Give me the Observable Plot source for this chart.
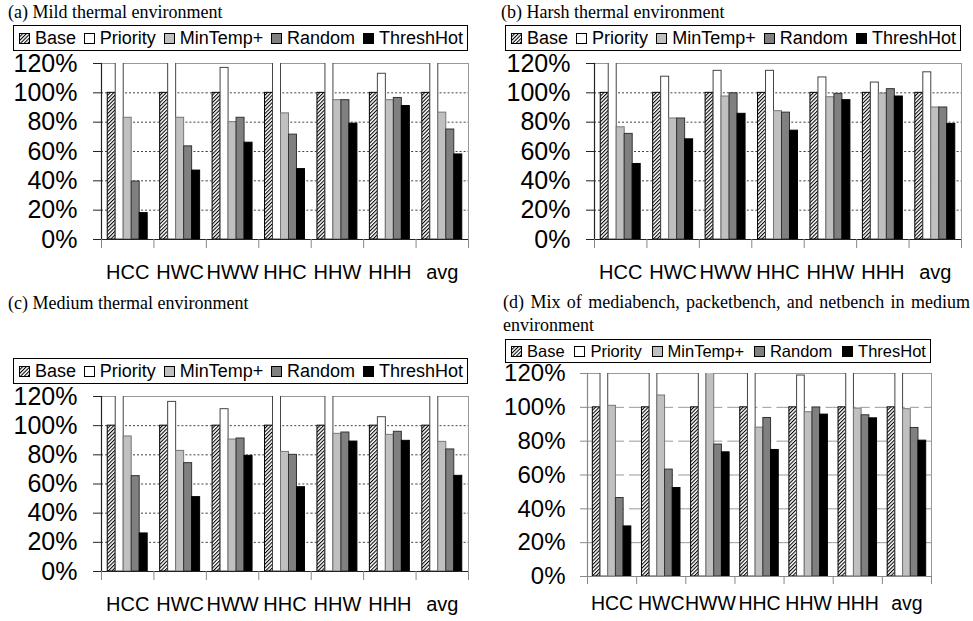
<!DOCTYPE html>
<html>
<head>
<meta charset="utf-8">
<script src="https://cdn.jsdelivr.net/npm/d3@7"></script>
<script src="https://cdn.jsdelivr.net/npm/@observablehq/plot@0.6"></script>
<style>
  html, body { margin: 0; padding: 0; background: #fff; }
  #root { position: relative; width: 973px; height: 621px; overflow: hidden; background: #fff; }
  .title { position: absolute; font-family: "Liberation Serif", "Times New Roman", serif; font-size: 18px; line-height: 20px; color: #000; white-space: nowrap; }
  .title.wrap { white-space: normal; text-align: justify; line-height: 23px; }
  .legend { position: absolute; box-sizing: border-box; border: 1px solid #000; display: flex; align-items: center; justify-content: space-between; padding: 0 4px 0 5px; font-family: "Liberation Sans", Arial, sans-serif; color: #000; }
  .legend .item { display: flex; align-items: center; gap: 5px; }
  .legend svg { display: block; }
  .plotbox { position: absolute; }
</style>
</head>
<body>
<svg width="0" height="0" style="position:absolute">
  <defs>
    <pattern id="hatch" patternUnits="userSpaceOnUse" width="2.6" height="2.6" patternTransform="rotate(45)">
      <rect width="2.6" height="2.6" fill="#fff"></rect>
      <line x1="0.5" y1="0" x2="0.5" y2="2.6" stroke="#000" stroke-width="1.1"></line>
    </pattern>
  </defs>
</svg>
<div id="root"></div>
<script>
// ---------- data ----------
const groups = ["HCC", "HWC", "HWW", "HHC", "HHW", "HHH", "avg"];
const seriesNames = ["Base", "Priority", "MinTemp+", "Random", "ThreshHot"];
const legendNamesABC = ["Base", "Priority", "MinTemp+", "Random", "ThreshHot"];
const legendNamesD = ["Base", "Priority", "MinTemp+", "Random", "ThresHot"];
const yTicks = [0, 0.2, 0.4, 0.6, 0.8, 1.0, 1.2];

// (a) Mild thermal environment (values above 120% run off the chart; estimated)
const mildBase      = [1, 1, 1, 1, 1, 1, 1];
const mildPriority  = [1.3, 1.3, 1.17, 1.3, 1.3, 1.13, 1.3];
const mildMinTemp   = [0.83, 0.83, 0.80, 0.86, 0.95, 0.95, 0.865];
const mildRandom    = [0.395, 0.635, 0.83, 0.715, 0.95, 0.965, 0.75];
const mildThreshHot = [0.18, 0.47, 0.66, 0.48, 0.79, 0.91, 0.58];

// (b) Harsh thermal environment
const harshBase      = [1, 1, 1, 1, 1, 1, 1];
const harshPriority  = [1.3, 1.11, 1.15, 1.15, 1.105, 1.07, 1.14];
const harshMinTemp   = [0.765, 0.825, 0.975, 0.875, 0.97, 0.995, 0.90];
const harshRandom    = [0.72, 0.825, 0.997, 0.865, 0.993, 1.025, 0.90];
const harshThreshHot = [0.515, 0.683, 0.857, 0.742, 0.95, 0.975, 0.788];

// (c) Medium thermal environment
const medBase      = [1, 1, 1, 1, 1, 1, 1];
const medPriority  = [1.3, 1.163, 1.113, 1.3, 1.3, 1.058, 1.3];
const medMinTemp   = [0.926, 0.827, 0.905, 0.82, 0.944, 0.937, 0.889];
const medRandom    = [0.654, 0.743, 0.912, 0.80, 0.953, 0.958, 0.837];
const medThreshHot = [0.261, 0.51, 0.793, 0.578, 0.891, 0.896, 0.656];

// (d) Mix of mediabench, packetbench, and netbench in medium environment
const mixBase      = [1, 1, 1, 1, 1, 1, 1];
const mixPriority  = [1.3, 1.3, 1.3, 1.3, 1.188, 1.3, 1.3];
const mixMinTemp   = [1.009, 1.07, 1.3, 0.88, 0.971, 0.993, 0.989];
const mixRandom    = [0.464, 0.632, 0.78, 0.937, 0.999, 0.953, 0.878];
const mixThresHot  = [0.296, 0.523, 0.734, 0.748, 0.957, 0.935, 0.803];

// ---------- styles ----------
const fillOf = {"Base": "url(#hatch)", "Priority": "#ffffff", "MinTemp+": "#c0c0c0", "Random": "#808080", "ThreshHot": "#000000"};
const strokeOf = {"Base": "#000000", "Priority": "#444444", "MinTemp+": "#777777", "Random": "#333333", "ThreshHot": "#000000"};
const sans = "'Liberation Sans', Arial, sans-serif";
const root = document.getElementById("root");

function addTitle(text, left, top, width) {
  const d = document.createElement("div");
  d.className = "title" + (width ? " wrap" : "");
  d.style.left = left + "px";
  d.style.top = top + "px";
  if (width) d.style.width = width + "px";
  d.textContent = text;
  root.appendChild(d);
}

function addLegend(names, left, top, width, height, fontSize) {
  const box = document.createElement("div");
  box.className = "legend";
  Object.assign(box.style, {left: left + "px", top: top + "px", width: width + "px", height: height + "px", fontSize: fontSize + "px"});
  names.forEach((name, i) => {
    const s = seriesNames[i];
    const item = document.createElement("div");
    item.className = "item";
    item.innerHTML = `<svg width="11" height="11"><rect x="0.5" y="0.5" width="10" height="10" fill="${fillOf[s]}" stroke="${strokeOf[s] === "#ffffff" ? "#000" : "#000"}" stroke-width="1"></rect></svg><span>${name}</span>`;
    box.appendChild(item);
  });
  root.appendChild(box);
}

function addPanel(cfg) {
  const cols = [cfg.base, cfg.priority, cfg.minTemp, cfg.random, cfg.thresh];
  const rows = groups.flatMap((g, i) => seriesNames.map((s, j) => ({group: g, series: s, value: cols[j][i]})));
  const plotH = cfg.height - cfg.mt - cfg.mb;
  const plot = Plot.plot({
    width: cfg.width,
    height: cfg.height,
    marginLeft: cfg.ml,
    marginRight: cfg.mr,
    marginTop: cfg.mt,
    marginBottom: cfg.mb,
    style: {fontFamily: sans, background: "transparent", overflow: "visible", color: "#000"},
    fx: {domain: groups, padding: 0, round: false, axis: null, label: null},
    x: {domain: seriesNames, paddingInner: 0, paddingOuter: cfg.po, round: false, axis: null, label: null},
    y: {domain: [0, 1.2], axis: null, label: null},
    color: {type: "identity"},
    marks: [
      Plot.gridY([0.2, 0.4, 0.6, 0.8, 1.0], {stroke: cfg.gridColor, strokeOpacity: 1, strokeDasharray: cfg.gridDash, strokeWidth: 1}),
      Plot.frame({facet: "super", stroke: "#999", strokeWidth: 1}),
      Plot.barY(rows, {
        fx: "group", x: "series", y: "value",
        fill: d => fillOf[d.series], stroke: d => strokeOf[d.series],
        strokeWidth: 1, clip: true
      }),
      Plot.ruleY([0], {stroke: cfg.axisColor, strokeWidth: 1.2}),
      Plot.frame({facet: "super", anchor: "left", stroke: cfg.axisColor, strokeWidth: 1.2}),
      Plot.frame({anchor: "left", insetTop: plotH, insetBottom: -cfg.tick, stroke: "#888"}),
      Plot.frame({facet: "super", anchor: "right", insetTop: plotH, insetBottom: -cfg.tick, stroke: "#888"}),
      Plot.axisY({ticks: yTicks, tickFormat: d3.format(".0%"), tickSize: cfg.tick, tickPadding: cfg.yPad,
                  fontSize: cfg.yFont, stroke: cfg.axisColor, label: null, anchor: "left", fill: "#000"}),
      Plot.axisFx({anchor: "bottom", tickSize: 0, tickPadding: cfg.xPad, fontSize: cfg.xFont, label: null, fill: "#000"})
    ]
  });
  const wrap = document.createElement("div");
  wrap.className = "plotbox";
  wrap.style.left = cfg.left + "px";
  wrap.style.top = cfg.top + "px";
  wrap.appendChild(plot);
  root.appendChild(wrap);
}

// (a)
addTitle("(a) Mild thermal environment", 8, 2);
addLegend(legendNamesABC, 13, 25, 455, 26, 18);
addPanel({left: 0, top: 55, width: 480, height: 234, ml: 101, mr: 12, mt: 8, mb: 50, po: 0.78,
  base: mildBase, priority: mildPriority, minTemp: mildMinTemp, random: mildRandom, thresh: mildThreshHot,
  gridColor: "#444", gridDash: "2,2", axisColor: "#222", tick: 8, yPad: 16, yFont: 25, xPad: 25, xFont: 20});

// (b)
addTitle("(b) Harsh thermal environment", 501, 2);
addLegend(legendNamesABC, 505, 25, 456, 26, 18);
addPanel({left: 490, top: 55, width: 483, height: 234, ml: 104, mr: 12, mt: 8, mb: 50, po: 0.78,
  base: harshBase, priority: harshPriority, minTemp: harshMinTemp, random: harshRandom, thresh: harshThreshHot,
  gridColor: "#444", gridDash: "2,2", axisColor: "#222", tick: 8, yPad: 16, yFont: 25, xPad: 25, xFont: 20});

// (c)
addTitle("(c) Medium thermal environment", 8, 293);
addLegend(legendNamesABC, 13, 358, 455, 26, 18);
addPanel({left: 0, top: 388, width: 480, height: 231, ml: 101, mr: 12, mt: 8, mb: 48, po: 0.78,
  base: medBase, priority: medPriority, minTemp: medMinTemp, random: medRandom, thresh: medThreshHot,
  gridColor: "#444", gridDash: "2,2", axisColor: "#222", tick: 8, yPad: 16, yFont: 25, xPad: 25, xFont: 20});

// (d)
addTitle("(d) Mix of mediabench, packetbench, and netbench in medium environment", 503, 291, 467);
addLegend(legendNamesD, 505, 339, 426, 24, 16.5);
addPanel({left: 490, top: 365, width: 483, height: 256, ml: 97, mr: 42, mt: 8, mb: 45, po: 0.69,
  base: mixBase, priority: mixPriority, minTemp: mixMinTemp, random: mixRandom, thresh: mixThresHot,
  gridColor: "#999", gridDash: "9,5", axisColor: "#888", tick: 7, yPad: 15, yFont: 24, xPad: 20, xFont: 19.5});
</script>
</body>
</html>
